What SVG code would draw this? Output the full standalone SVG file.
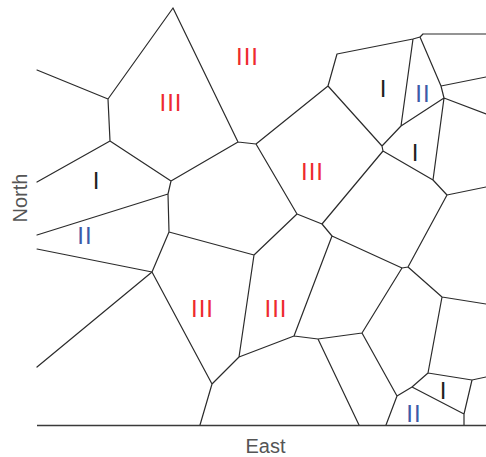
<svg xmlns="http://www.w3.org/2000/svg" width="486" height="457" viewBox="0 0 486 457">
<style>
.e{stroke:#2b2b2b;stroke-width:1.2;fill:none;stroke-linecap:round}
.ax{stroke:#3a3a3a;stroke-width:1.6;fill:none}
.lb{font-family:"Liberation Sans",Arial,sans-serif;font-size:24px;text-anchor:middle}
.r{fill:#ee2a2f}
.b{fill:#3d5aa8}
.k{fill:#231f20}
.t{font-family:"Liberation Sans",Arial,sans-serif;font-size:20px;fill:#555;text-anchor:middle}
</style>
<rect width="486" height="457" fill="#fff"/>
<g id="connectors">
<path class="e" d="M37,70L108,99 M173,8L108,99 M108,99L110,141 M37,182L110,141 M110,141L171,181 M173,8L238,142 M171,181L238,142 M171,181L168,194 M37,235L168,194 M168,194L169,232 M37,249L152,272 M169,232L152,272 M152,272L37,367 M152,272L212,384 M212,384L200,425 M169,232L254,255 M254,255L297,214 M238,142L256,144 M256,144L297,214 M256,144L328,86 M328,86L337,54 M337,54L413,39 M413,39L420,37 M420,37L423,34 M423,34L486,34 M413,39L401,126 M420,37L441,86 M441,86L486,77 M441,86L444,98 M444,98L486,114 M444,98L401,126 M401,126L382,146 M328,86L382,146 M382,146L383,151 M383,151L433,180 M444,98L433,180 M433,180L447,195 M447,195L486,187 M383,151L322,224 M297,214L322,224 M322,224L332,236 M332,236L402,268 M402,268L408,267 M447,195L408,267 M402,268L362,333 M408,267L442,297 M442,297L486,304 M442,297L428,373 M428,373L472,380 M472,380L486,377 M472,380L464,414 M464,414L464,425 M428,373L412,387 M412,387L464,414 M412,387L397,396 M397,396L386,425 M362,333L397,396 M362,333L318,339 M318,339L359,425 M318,339L294,336 M294,336L332,236 M294,336L239,357 M239,357L212,384 M239,357L254,255"/>
<line class="ax" x1="37" y1="425.5" x2="486" y2="425.5"/>
</g>
<g id="r1"><text class="lb r" x="247.5" y="65" letter-spacing="1">III</text></g>
<g id="r2"><text class="lb r" x="171" y="111" letter-spacing="1">III</text></g>
<g id="r3"><text class="lb k" x="96" y="189">I</text></g>
<g id="r4"><text class="lb b" x="85" y="244" letter-spacing="1">II</text></g>
<g id="r5"><text class="lb r" x="312.5" y="180" letter-spacing="1">III</text></g>
<g id="r6"><text class="lb k" x="383" y="97">I</text></g>
<g id="r7"><text class="lb b" x="423" y="102" letter-spacing="1">II</text></g>
<g id="r8"><text class="lb k" x="415" y="161">I</text></g>
<g id="r9"><text class="lb r" x="202.5" y="317" letter-spacing="1">III</text></g>
<g id="r10"><text class="lb r" x="276" y="317" letter-spacing="1">III</text></g>
<g id="r11"><text class="lb k" x="443" y="399">I</text></g>
<g id="r12"><text class="lb b" x="414" y="422" letter-spacing="1">II</text></g>
<g id="axis-labels">
<text class="t" x="265.5" y="453">East</text>
<text class="t" transform="translate(26.5,198) rotate(-90)">North</text>
</g>
</svg>
